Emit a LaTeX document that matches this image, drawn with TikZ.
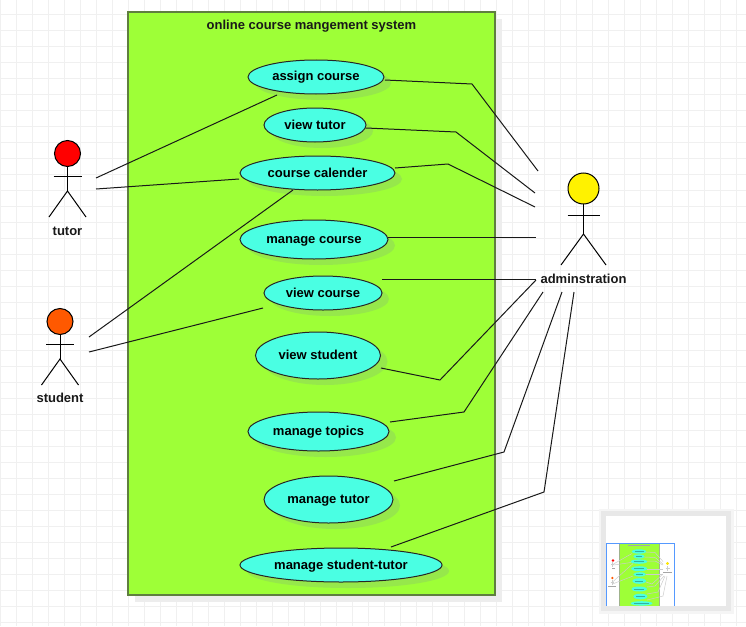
\documentclass[tikz,border=0pt]{standalone}
\usepackage{fontspec}
\setmainfont{Liberation Sans}
\usetikzlibrary{shapes.geometric}
\definecolor{sysgreen}{HTML}{9EFF37}
\definecolor{sysedge}{HTML}{5F7F3F}
\definecolor{ucfill}{HTML}{4AFFE3}
\definecolor{ucshadow}{HTML}{96E84B}
\definecolor{gridc}{HTML}{F0F0F0}
\definecolor{miniblue}{HTML}{5599FF}
\tikzset{
  uc/.style={ellipse,draw=black!85,line width=1pt,fill=ucfill,inner sep=0pt,outer sep=0pt,font=\fontsize{13}{15}\selectfont\bfseries,text height=11pt,text depth=3pt},
  lab/.style={inner sep=0pt,font=\fontsize{13}{15}\selectfont\bfseries,text=black!90,text height=11pt,text depth=3pt},
  link/.style={draw=black!90,line width=1pt},
  limb/.style={draw=black,line width=1pt},
  mini/.style={draw=black!20,line width=.5pt}
}
% usecase: name, cx, cy, rx, ry, text
\newcommand{\usecase}[6]{%
  \fill[ucshadow] (#2+7,#3+6) ellipse [x radius=#4,y radius=#5];
  \node[uc,minimum width=#4*2pt,minimum height=#5*2pt] (#1) at (#2,#3) {#6};
}
% actor: name, cx, headcy, armY, armHalf, hipY, footY, footHalf, colour
\newcommand{\actorfig}[9]{%
  \draw[limb] (#2,#3) -- (#2,#6);
  \draw[limb] (#2-#5,#4) -- (#2+#5,#4);
  \draw[limb] (#2-#8,#7) -- (#2,#6) -- (#2+#8,#7);
  \node[circle,draw=black,line width=1pt,fill=#9,minimum size=26pt,inner sep=0pt] (#1) at (#2,#3) {};
}
\begin{document}
\begin{tikzpicture}[x=1pt,y=-1pt]
\useasboundingbox (0,0) rectangle (746,626);
\fill[white] (0,0) rectangle (746,626);
% grid
\foreach \gx in {0,...,46} \draw[gridc,line width=1pt] (\gx*16+.5,0) -- (\gx*16+.5,626);
\foreach \gy in {1,...,39} \draw[gridc,line width=1pt] (0,\gy*16-1.5) -- (746,\gy*16-1.5);
% system
\fill[black!7] (135,19) rectangle (502,602);
\node[draw=sysedge,line width=2pt,fill=sysgreen,minimum width=367pt,minimum height=583pt,inner sep=0pt,outer sep=0pt] (sys) at (311.5,303.5) {};
\node[lab] (title) at (311.5,25.5) {online course mangement system};
% use cases
\usecase{assign}{316}{77}{68}{17}{assign course}
\usecase{viewtutor}{315}{125}{51}{17}{view tutor}
\usecase{calender}{317.5}{173}{77.5}{17}{course calender}
\usecase{managecourse}{314}{239.5}{74}{19.5}{manage course}
\usecase{viewcourse}{323}{293}{59}{17}{view course}
\usecase{viewstudent}{318}{355.5}{62.5}{23.5}{view student}
\usecase{topics}{318.5}{431.5}{70.5}{19.5}{manage topics}
\usecase{managetutor}{328.5}{499.5}{64.5}{23.5}{manage tutor}
\usecase{studenttutor}{341}{565}{101}{17}{manage student-tutor}
% actors
\actorfig{tutor}{67.5}{153.5}{176}{14}{191}{217}{18.5}{red}
\node[lab] (tutorlab) at (67.5,231) {tutor};
\actorfig{student}{60}{321.5}{344}{14}{359}{385}{18.5}{orange!70!red}
\node[lab] (studentlab) at (60,398.5) {student};
\draw[limb] (583.5,188) -- (583.5,234);
\draw[limb] (567.5,215) -- (599.5,215);
\draw[limb] (561,265) -- (583.5,234) -- (606,265);
\node[circle,draw=black,line width=1pt,fill=yellow,minimum size=31pt,inner sep=0pt] (admin) at (583.5,188.5) {};
\node[lab] (adminlab) at (583.5,279) {adminstration};
% free ends
\coordinate (t1) at (96,178);
\coordinate (t2) at (96,189);
\coordinate (s1) at (89,337);
\coordinate (s2) at (89,352);
\coordinate (a1) at (538,171);
\coordinate (a2) at (535,193);
\coordinate (a3) at (535,207);
\coordinate (a4) at (536,237);
\coordinate (a5) at (536,279);
\coordinate (a6) at (536,280);
\coordinate (a7) at (543,292);
\coordinate (a8) at (562,292);
\coordinate (a9) at (574,292);
% connectors
\draw[link] (t1) -- ([shift={(-39,18)}]assign.center);
\draw[link] (t2) -- ([shift={(-78.5,6)}]calender.center);
\draw[link] (s1) -- ([shift={(-24.5,17)}]calender.center);
\draw[link] (s2) -- ([shift={(-60,15)}]viewcourse.center);
\draw[link] ([shift={(69,3)}]assign.center) -- (472,84) -- (a1);
\draw[link] ([shift={(51,3)}]viewtutor.center) -- (456,132) -- (a2);
\draw[link] ([shift={(77.5,-5)}]calender.center) -- (448,164) -- (a3);
\draw[link] ([shift={(74,-2.5)}]managecourse.center) -- (a4);
\draw[link] ([shift={(59,-14)}]viewcourse.center) -- (a5);
\draw[link] ([shift={(63,12.5)}]viewstudent.center) -- (440,380) -- (a6);
\draw[link] ([shift={(71.5,-9.5)}]topics.center) -- (464,412) -- (a7);
\draw[link] ([shift={(65.5,-18.5)}]managetutor.center) -- (504,452) -- (a8);
\draw[link] ([shift={(50,-18)}]studenttutor.center) -- (544,492) -- (a9);
% overview panel
\fill[black!4] (599,509) rectangle (734,614);
\fill[black!9] (601,511) rectangle (731,611);
\fill[white] (606,516) rectangle (726,606);
\fill[sysgreen] (619.5,544) rectangle (659,606);
\draw[sysedge!60,line width=.5pt] (619.5,544) -- (619.5,606) (659,544) -- (659,606);
\fill[black!35] (628,545) rectangle (650,546.2);
\foreach \cx/\cy/\rx/\ry/\tw in {
  639/551.5/7.2/2.2/4.5, 639/556.5/5.6/2.2/3.2, 639/561.6/8.3/2.2/5.2,
  639.2/568.7/8/2.5/5, 639.6/574.4/6.3/2.2/3.8, 639.2/581/6.8/2.8/4.2,
  639.2/589/7.7/2.5/4.8, 640.4/596.5/7/2.8/4.2, 641.6/603.4/10.8/2.2/7.2}{
  \fill[ucfill] (\cx,\cy) ellipse [x radius=\rx,y radius=\ry];
  \fill[black!30!ucfill] (\cx-\tw,\cy-.4) rectangle (\cx+\tw,\cy+.4);
}
\draw[mini] (613.5,564) -- (632,553.5) (613.5,565) -- (631,562.5) (612.5,582) -- (633,563.5) (612.5,584) -- (633,576);
\draw[mini] (646,552) -- (655,552.5) -- (663,561.5);
\draw[mini] (644.5,557) -- (655,557.5) -- (663,564);
\draw[mini] (647,561) -- (655,561) -- (663,565);
\draw[mini] (647,569) -- (663,569);
\draw[mini] (646,574) -- (663,574);
\draw[mini] (646,582) -- (652,584) -- (663,574);
\draw[mini] (647,587) -- (655,586) -- (664,576);
\draw[mini] (647,594) -- (658,592) -- (665,576);
\draw[mini] (647,600) -- (663,596) -- (667,576);
\draw[mini] (612.5,562) -- (612.5,567) (611,564) -- (614,564);
\draw[mini] (612,580) -- (612,585) (610.5,582) -- (613.5,582);
\draw[mini] (667.5,566) -- (667.5,571) (665.5,568.5) -- (669.5,568.5);
\fill[red] (613,560.5) circle (1.3);
\fill[orange!70!red] (612.3,578) circle (1.3);
\fill[yellow!90!orange] (667.5,563.5) circle (1.7);
\fill[black!35] (612,568) rectangle (615,568.8);
\fill[black!35] (608,586) rectangle (616,586.8);
\fill[black!35] (663,572) rectangle (672,572.8);
\draw[miniblue,line width=1pt] (606.5,606) -- (606.5,543.5) -- (674.5,543.5) -- (674.5,606);
\end{tikzpicture}
\end{document}
